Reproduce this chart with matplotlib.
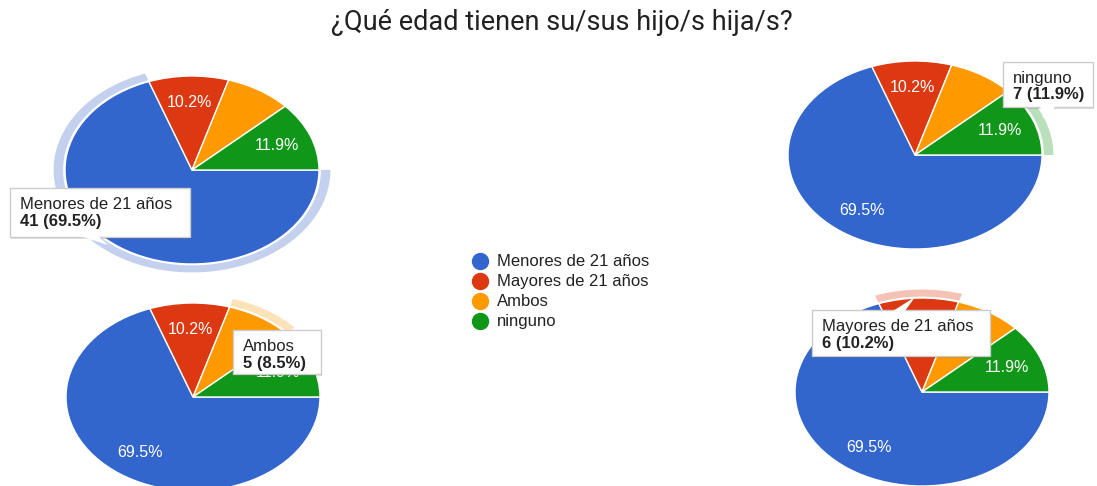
import matplotlib.pyplot as plt
from matplotlib.patches import Wedge, Rectangle, Polygon

W, H = 1097, 486

categories = ["Menores de 21 años", "Mayores de 21 años", "Ambos", "ninguno"]
counts = [41, 6, 5, 7]
colors = ["#3366cc", "#dc3912", "#ff9900", "#109618"]
halo_colors = ["#c3d1ef", "#f5c2b6", "#ffe3b8", "#b9e0bb"]
title = "¿Qué edad tienen su/sus hijo/s hija/s?"

# one pie per hovered slice: (center x, center y) in pixels, highlighted slice,
# slice labels that sit under the tooltip
pies = [
    ((192, 170), 0, [0]),   # top left, Menores
    ((915, 155), 3, []),    # top right, ninguno
    ((193, 397), 2, []),    # bottom left, Ambos
    ((922, 392), 1, [1]),   # bottom right, Mayores
]
# tooltip boxes (x0, y0, x1, y1) in pixels and pointer triangles
tips = [
    ((10, 188, 190, 237), [(80, 236), (98, 236), (108, 245)]),
    ((1003, 62, 1093, 107), [(1040, 106), (1056, 106), (1043, 118)]),
    ((233, 330, 321, 374), None),
    ((812, 310, 990, 356), [(893, 311), (905, 311), (915, 297)]),
]
RX, RY = 127, 94
LABEL_FONT = "Liberation Sans"

fig = plt.figure(figsize=(W / 100, H / 100), dpi=100)
total = sum(counts)


def pct_label(p):
    return f"{p:.1f}%" if p >= 9 else ""


for (cx, cy), hi, hidden in pies:
    ax = fig.add_axes([(cx - 1.2 * RX) / W, (H - cy - 1.2 * RY) / H,
                       2.4 * RX / W, 2.4 * RY / H])
    wedges, texts, autotexts = ax.pie(
        counts, colors=colors, startangle=0, counterclock=False,
        autopct=pct_label, pctdistance=0.72,
        wedgeprops=dict(edgecolor="white", linewidth=1),
        textprops=dict(color="white", fontsize=11.5, family=LABEL_FONT))
    for k in hidden:
        autotexts[k].set_visible(False)
    ax.set_aspect("auto")
    ax.set_xlim(-1.2, 1.2)
    ax.set_ylim(-1.2, 1.2)
    w = wedges[hi]
    ax.add_patch(Wedge((0, 0), 1.09, w.theta1, w.theta2, width=0.075,
                       facecolor=halo_colors[hi], edgecolor="none"))

# overlay in pixel coordinates for title, legend and tooltips
ov = fig.add_axes([0, 0, 1, 1], zorder=10)
ov.set_xlim(0, W)
ov.set_ylim(H, 0)
ov.axis("off")
ov.patch.set_alpha(0)

ov.text(562, 22, title, ha="center", va="center", fontsize=19.5,
        family="Roboto", color="#212121")

for i, (lab, col) in enumerate(zip(categories, colors)):
    y = 261 + i * 20
    ov.plot(480, y, "o", ms=11.5, color=col, mec=col)
    ov.text(497, y, lab, va="center", ha="left", fontsize=12,
            family=LABEL_FONT, color="#222222")

for ((cx, cy), hi, hidden), (box, ptr) in zip(pies, tips):
    x0, y0, x1, y1 = box
    ov.add_patch(Rectangle((x0 + 1, y0 + 2), x1 - x0, y1 - y0,
                           facecolor="#000000", alpha=0.12, edgecolor="none"))
    ov.add_patch(Rectangle((x0, y0), x1 - x0, y1 - y0, facecolor="white",
                           edgecolor="#cccccc", linewidth=1))
    if ptr:
        ov.add_patch(Polygon(ptr, closed=True, facecolor="white",
                             edgecolor="none"))
    p = counts[hi] / total * 100
    ov.text(x0 + 10, y0 + 16, categories[hi], va="center", fontsize=12,
            family=LABEL_FONT, color="#222222")
    ov.text(x0 + 10, y0 + 33, f"{counts[hi]} ({p:.1f}%)", va="center",
            fontsize=12, family=LABEL_FONT, weight="bold", color="#222222")

fig.savefig("out.png", dpi=100)
